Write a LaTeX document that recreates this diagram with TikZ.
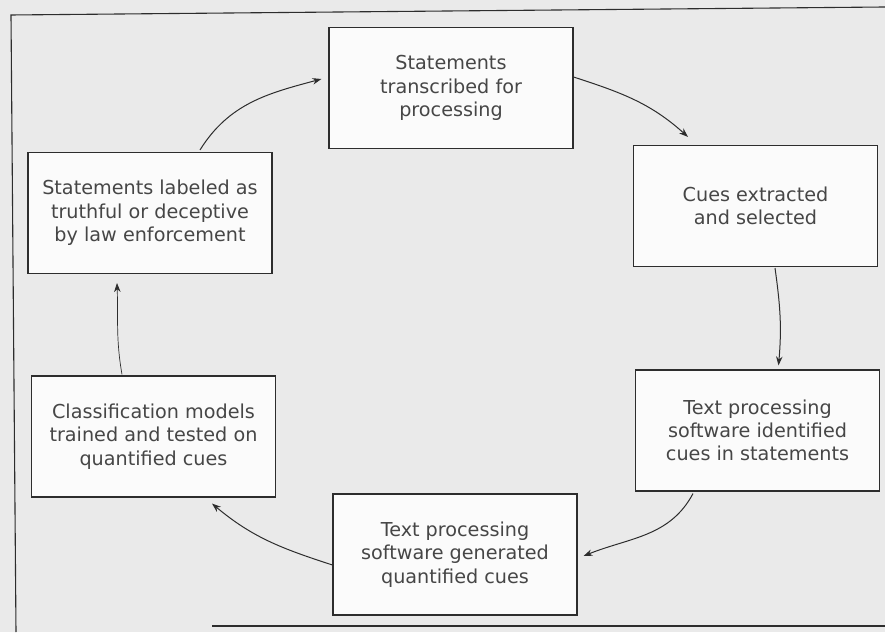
\documentclass[tikz,border=0pt]{standalone}
\usepackage{fontspec}
\setmainfont{DejaVu Sans}
\usetikzlibrary{arrows.meta}
\definecolor{bgcol}{RGB}{234,234,234}
\definecolor{boxfill}{RGB}{251,251,251}
\definecolor{inkcol}{RGB}{45,45,45}
\definecolor{txtcol}{RGB}{70,70,70}
\tikzset{
  stepbox/.style={draw=inkcol, line width=1.1pt, fill=boxfill, minimum width=244pt,
    minimum height=121pt, inner sep=0pt, align=center, text=txtcol,
    font=\fontsize{19.2}{23.3}\selectfont},
  flow/.style={draw=inkcol, line width=1pt, -{Stealth[length=9pt,width=6.5pt]}},
  frameline/.style={draw=inkcol, line width=1.1pt}
}
\begin{document}
\begin{tikzpicture}[x=1pt,y=1pt]
\useasboundingbox (0,0) rectangle (885,632);
\fill[bgcol] (0,0) rectangle (885,632);
% outer frame (scanned page border)
\coordinate (ftl) at (11,617);
\coordinate (ftr) at (885,625);
\coordinate (fbl) at (16,0);
\coordinate (fb1) at (212,6);
\coordinate (fb2) at (885,6);
\draw[frameline] (fbl) -- (ftl) -- (ftr);
\draw[frameline] (fb1) -- (fb2);
% boxes
\node[stepbox] (b1) at (451,544) {Statements\\transcribed for\\processing};
\node[stepbox] (b2) at (755.5,426) {Cues extracted\\and selected};
\node[stepbox] (b3) at (150,419) {Statements labeled as\\truthful or deceptive\\by law enforcement};
\node[stepbox] (b4) at (153.5,195.5) {Classification models\\trained and tested on\\quantified cues};
\node[stepbox] (b5) at (757.5,201.5) {Text processing\\software identified\\cues in statements};
\node[stepbox] (b6) at (455,77.5) {Text processing\\software generated\\quantified cues};
% connectors
\draw[flow] ([xshift=50pt,yshift=2pt]b3.north) to[out=58,in=195] ([xshift=-7pt,yshift=9pt]b1.west);
\draw[flow] ([yshift=11pt]b1.east) to[out=-18,in=138] ([xshift=-67.5pt,yshift=8pt]b2.north);
\draw[flow] ([xshift=19.5pt,yshift=-1pt]b2.south) to[out=-82,in=85] ([xshift=21pt,yshift=4pt]b5.north);
\draw[flow] ([xshift=-64.5pt,yshift=-2pt]b5.south) to[out=-118,in=22] ([xshift=6pt,yshift=-1.5pt]b6.east);
\draw[flow] ([yshift=-10.5pt]b6.west) to[out=162,in=-40] ([xshift=58.5pt,yshift=-6pt]b4.south);
\draw[flow, line width=0.7pt] ([xshift=-31.5pt,yshift=1pt]b4.north) to[out=100,in=-88] ([xshift=-33pt,yshift=-9pt]b3.south);
\end{tikzpicture}
\end{document}
